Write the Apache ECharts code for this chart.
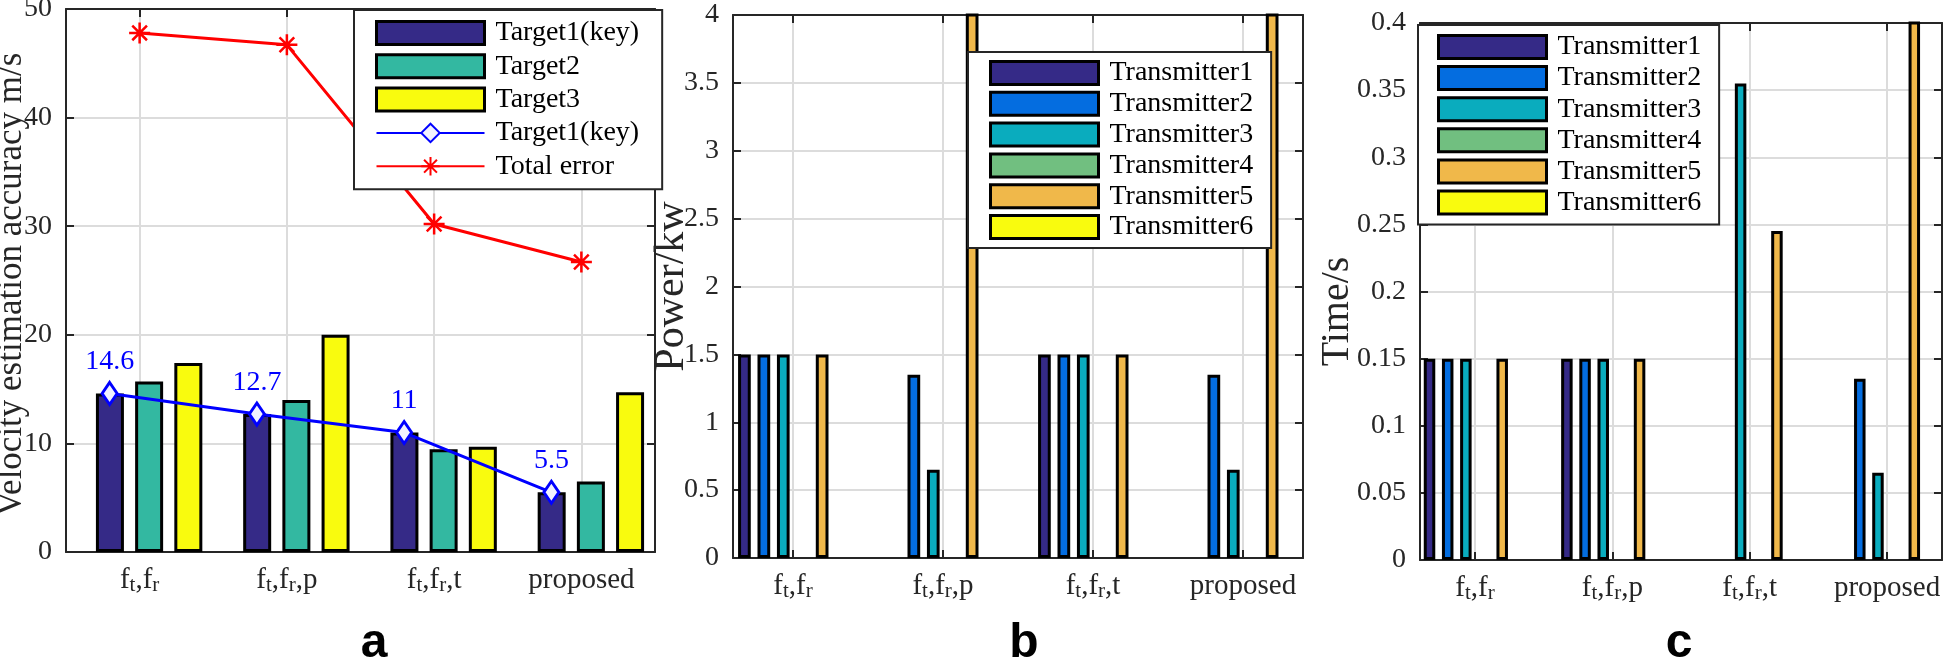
<!DOCTYPE html>
<html>
<head>
<meta charset="utf-8">
<script src="https://cdn.jsdelivr.net/npm/echarts@6/dist/echarts.min.js"></script>
<style>html,body{margin:0;padding:0;background:#fff}#c{width:1946px;height:660px}</style>
</head>
<body>
<div id="c"></div>
<script>
// ---------- data ----------
const categories = ['f_t,f_r', 'f_t,f_r,p', 'f_t,f_r,t', 'proposed'];

// panel a
const targetNames = ['Target1(key)', 'Target2', 'Target3'];
const target1 = [14.6, 12.7, 11, 5.5];
const target2 = [15.7, 14.0, 9.45, 6.5];
const target3 = [17.4, 20.0, 9.7, 14.7];
const keyLineName = 'Target1(key) ';
const keyLine = [14.6, 12.7, 11, 5.5];
const totalErrorName = 'Total error';
const totalError = [47.8, 46.7, 30.2, 26.7];

// panel b (power, kw)
const transmitterNames = ['Transmitter1', 'Transmitter2', 'Transmitter3', 'Transmitter4', 'Transmitter5', 'Transmitter6'];
const powerT1 = [1.5, 0, 1.5, 0];
const powerT2 = [1.5, 1.35, 1.5, 1.35];
const powerT3 = [1.5, 0.65, 1.5, 0.65];
const powerT4 = [0, 0, 0, 0];
const powerT5 = [1.5, 4.6, 1.5, 4.6];
const powerT6 = [0, 0, 0, 0];

// panel c (time, s)
const timeT1 = [0.15, 0.15, 0, 0];
const timeT2 = [0.15, 0.15, 0, 0.135];
const timeT3 = [0.15, 0.15, 0.355, 0.065];
const timeT4 = [0, 0, 0, 0];
const timeT5 = [0.15, 0.15, 0.245, 0.46];
const timeT6 = [0, 0, 0, 0];

// ---------- styles ----------
const FONT = 'Liberation Serif';
const AXC = '#262626';
const GRIDC = '#dcdcdc';
const colors3 = ['#352A87', '#33B8A1', '#F9FB0E'];
const colors6 = ['#352A87', '#046DE0', '#0AACBE', '#71BF80', '#F0B84A', '#F9FB0E'];

const RICH = {
  m: {fontFamily: FONT, fontSize: 29, color: AXC, lineHeight: 30, padding: [0, 0, 12, 0], verticalAlign: 'top'},
  s: {fontFamily: FONT, fontSize: 21, color: AXC, lineHeight: 21, verticalAlign: 'bottom'}
};
function richCat(s) {
  let out = '', buf = '';
  for (let i = 0; i < s.length; i++) {
    if (s[i] === '_') {
      if (buf) { out += '{m|' + buf + '}'; buf = ''; }
      out += '{s|' + s[i + 1] + '}';
      i++;
    } else buf += s[i];
  }
  if (buf) out += '{m|' + buf + '}';
  return out;
}

const option = {animation: false, grid: [], xAxis: [], yAxis: [], series: [], legend: [], graphic: []};
const tickVals = categories.map((c, i) => i + 1);
const toXY = arr => arr.map((v, i) => [i + 1, v]);
const toBarXY = arr => arr.map((v, i) => [i + 1, v === 0 ? null : v]);

function addPanel(p) {
  const gi = option.grid.length;
  option.grid.push({left: p.left, top: p.top, width: p.width, height: p.height, containLabel: false, outerBoundsMode: 'none'});
  const xb = option.xAxis.length;
  const yb = option.yAxis.length;
  const lineSt = {color: AXC, width: 2};
  option.xAxis.push({
    gridIndex: gi, type: 'value', min: p.xmin, max: p.xmax, position: 'bottom',
    axisLine: {show: true, onZero: false, lineStyle: lineSt},
    axisTick: {show: true, inside: true, length: 8, customValues: tickVals, lineStyle: lineSt},
    axisLabel: {show: true, customValues: tickVals, margin: 14, formatter: v => richCat(categories[Math.round(v) - 1]), rich: RICH},
    splitLine: {show: true, lineStyle: {color: GRIDC, width: 2}}
  });
  option.xAxis.push({
    gridIndex: gi, type: 'value', min: p.xmin, max: p.xmax, position: 'top',
    axisLine: {show: true, onZero: false, lineStyle: lineSt},
    axisTick: {show: true, inside: true, length: 8, customValues: tickVals, lineStyle: lineSt},
    axisLabel: {show: false}, splitLine: {show: false}
  });
  const unitPx = p.width / (p.xmax - p.xmin);
  const shifts = p.shifts || [0];
  shifts.forEach(sp => {
    const su = sp / unitPx;
    option.xAxis.push({gridIndex: gi, type: 'value', show: false, min: p.xmin - su, max: p.xmax - su});
  });
  option.yAxis.push({
    gridIndex: gi, type: 'value', min: 0, max: p.ymax, interval: p.yint, position: 'left',
    axisLine: {show: true, onZero: false, lineStyle: lineSt},
    axisTick: {show: true, inside: true, length: 8, lineStyle: lineSt},
    axisLabel: {fontFamily: FONT, fontSize: 28, color: AXC, margin: 14},
    splitLine: {show: true, lineStyle: {color: GRIDC, width: 2}},
    name: p.yname, nameLocation: 'middle', nameGap: p.nameGap, nameMoveOverlap: false,
    nameTextStyle: {fontFamily: FONT, fontSize: p.nameSize, color: AXC, padding: p.namePad}
  });
  option.yAxis.push({
    gridIndex: gi, type: 'value', min: 0, max: p.ymax, interval: p.yint, position: 'right',
    axisLine: {show: true, onZero: false, lineStyle: lineSt},
    axisTick: {show: true, inside: true, length: 8, lineStyle: lineSt},
    axisLabel: {show: false}, splitLine: {show: false}
  });
  return {gi, xMain: xb, xShift: i => xb + 2 + i, y: yb};
}

function barSeries(name, data, color, xIdx, yIdx, w, gap) {
  return {
    type: 'bar', name, xAxisIndex: xIdx, yAxisIndex: yIdx, data: toBarXY(data),
    barWidth: w, barGap: gap, itemStyle: {color, borderColor: '#000', borderWidth: 3}, z: 2
  };
}

// ---------- panel a ----------
const A = addPanel({left: 66, top: 9, width: 589, height: 543, xmin: 0.5, xmax: 4.5, ymax: 50, yint: 10,
  yname: 'Velocity estimation accuracy m/s', nameGap: 37, nameSize: 35, namePad: [0, 8, 0, 0], shifts: [9.5, -30]});
[target1, target2, target3].forEach((d, i) => {
  option.series.push(barSeries(targetNames[i], d, colors3[i], A.xShift(0), A.y, 28, '40%'));
});
option.series.push({
  type: 'line', name: keyLineName, xAxisIndex: A.xShift(1), yAxisIndex: A.y, data: toXY(keyLine),
  symbol: 'diamond', symbolSize: [15, 22], z: 5,
  lineStyle: {color: '#0000FF', width: 3},
  itemStyle: {color: '#F2F2FF', borderColor: '#0000FF', borderWidth: 3},
  label: {show: true, position: 'top', distance: 5, color: '#0000FF', fontFamily: FONT, fontSize: 28,
    formatter: p => String(p.value[1])}
});
option.series.push({
  type: 'line', name: totalErrorName, xAxisIndex: A.xMain, yAxisIndex: A.y, data: toXY(totalError),
  symbol: 'path://M10,0L10,20M0,10L20,10M3,3L17,17M17,3L3,17', symbolSize: 21, z: 5,
  lineStyle: {color: '#FF0000', width: 3},
  itemStyle: {color: '#FF0000', borderColor: '#FF0000', borderWidth: 2.5}
});

// ---------- panel b ----------
const B = addPanel({left: 733, top: 15, width: 570, height: 543, xmin: 0.6, xmax: 4.4, ymax: 4, yint: 0.5,
  yname: 'Power/kw', nameGap: 40, nameSize: 42, namePad: [0, 0, 0, 0]});
[powerT1, powerT2, powerT3, powerT4, powerT5, powerT6].forEach((d, i) => {
  option.series.push(barSeries(transmitterNames[i], d, colors6[i], B.xShift(0), B.y, 12.7, '53%'));
});

// ---------- panel c ----------
const C = addPanel({left: 1420, top: 23, width: 522, height: 537, xmin: 0.6, xmax: 4.4, ymax: 0.4, yint: 0.05,
  yname: 'Time/s', nameGap: 63, nameSize: 40, namePad: [0, 40, 0, 0]});
[timeT1, timeT2, timeT3, timeT4, timeT5, timeT6].forEach((d, i) => {
  option.series.push(barSeries(transmitterNames[i], d, colors6[i], C.xShift(0), C.y, 11.5, '58%'));
});

// ---------- legends ----------
function legend(left, top, padding, gap, names, lineNames) {
  const data = names.map(n => ({name: n, icon: 'rect', itemStyle: {borderColor: '#000', borderWidth: 3}}));
  (lineNames || []).forEach(n => data.push({name: n}));
  return {
    left, top, orient: 'vertical', padding, itemGap: gap, itemWidth: 108, itemHeight: 23,
    backgroundColor: '#fff', borderColor: AXC, borderWidth: 2, borderRadius: 0, selectedMode: false, z: 6,
    textStyle: {fontFamily: FONT, fontSize: 28, color: '#000', lineHeight: 28, padding: [0, 0, 0, 6]},
    data
  };
}
option.legend.push(legend(354, 10, [9, 16, 9, 21], 5.3, targetNames, [keyLineName, totalErrorName]));
option.legend.push(legend(968, 52, [7, 18, 7, 21], 2.8, transmitterNames));
option.legend.push(legend(1418, 25, [8, 18, 8, 19], 3.1, transmitterNames));

// ---------- panel letters ----------
[['a', 374], ['b', 1024], ['c', 1679]].forEach(([t, x]) => {
  option.graphic.push({type: 'text', x, y: 668, z: 10,
    style: {text: t, font: 'bold 48px "Liberation Sans"', fill: '#000', textAlign: 'center', verticalAlign: 'bottom', textVerticalAlign: 'bottom'}});
});

const chart = echarts.init(document.getElementById('c'), null, {renderer: 'canvas'});
chart.setOption(option);
</script>
</body>
</html>
